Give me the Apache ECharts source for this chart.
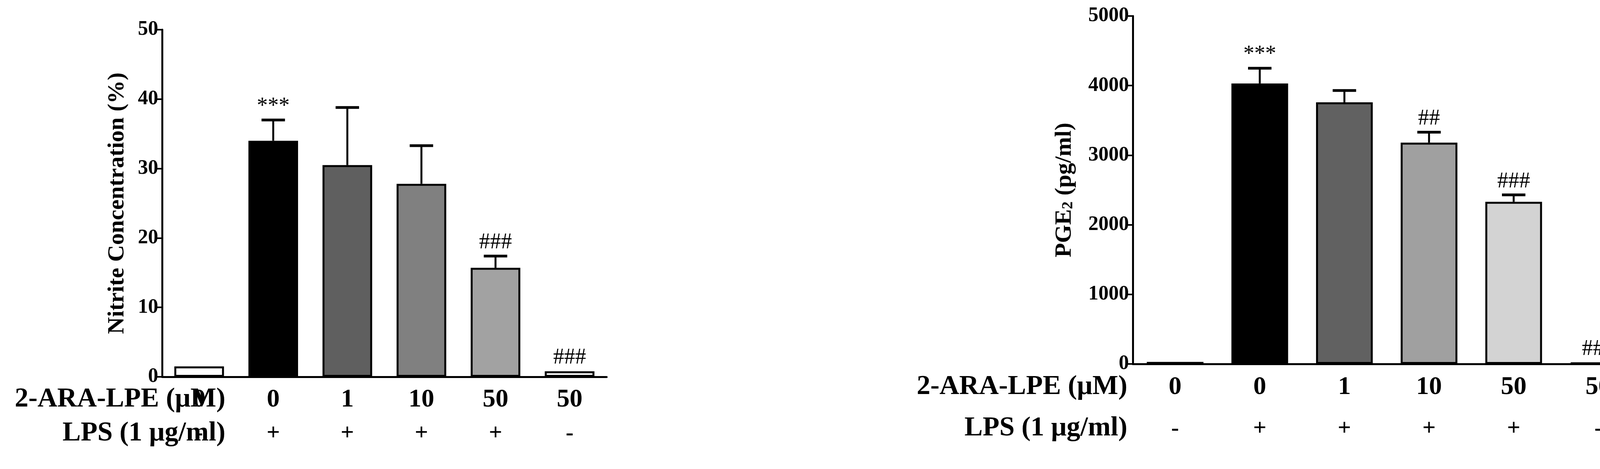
<!DOCTYPE html>
<html>
<head>
<meta charset="utf-8">
<script src="https://cdn.jsdelivr.net/npm/echarts@6/dist/echarts.min.js"></script>
<style>
  html, body { margin: 0; background: #fff; }
  #main { width: 4250px; height: 1201px; }
</style>
</head>
<body>
<div id="main"></div>
<script>
// data
var doses = ['0', '0', '1', '10', '50', '50'];
var lps = ['-', '+', '+', '+', '+', '-'];
var nitrite = [1.5, 34, 30.5, 27.8, 15.7, 0.8];
var nitriteErr = [0, 3, 8.3, 5.5, 1.7, 0];
var nitriteMarks = ['', '***', '', '', '###', '###'];
var pge2 = [30, 4030, 3760, 3180, 2330, 20];
var pge2Err = [0, 220, 170, 150, 100, 0];
var pge2Marks = ['', '***', '', '##', '###', '###'];
var leftColors = ['#ffffff', '#000000', '#5f5f5f', '#808080', '#a2a2a2', '#ffffff'];
var rightColors = ['#ffffff', '#000000', '#616161', '#a0a0a0', '#d3d3d3', '#ffffff'];

var FONT = 'Liberation Serif';
var cats = doses.map(function (d, i) { return i; });

function xAxisFor(gi, margin, lh) {
  return {
    type: 'category', gridIndex: gi, data: cats,
    axisLine: { lineStyle: { color: '#000', width: 5 } },
    axisTick: { alignWithLabel: true, length: 30, lineStyle: { color: '#000', width: 4 } },
    axisLabel: {
      margin: margin, color: '#000', fontFamily: FONT, fontWeight: 'bold',
      formatter: function (v) { return '{a|' + doses[v] + '}\n{b|' + lps[v] + '}'; },
      rich: {
        a: { fontSize: 66, fontFamily: FONT, fontWeight: 'bold', color: '#000', lineHeight: lh },
        b: { fontSize: 60, fontFamily: FONT, fontWeight: 'bold', color: '#000', lineHeight: lh }
      }
    }
  };
}
function yAxisFor(gi, max, interval, name, gap) {
  return {
    type: 'value', gridIndex: gi, min: 0, max: max, interval: interval,
    name: name, nameLocation: 'middle', nameGap: gap, nameRotate: 90,
    nameTextStyle: {
      fontFamily: FONT, fontWeight: 'bold', fontSize: 60, color: '#000',
      rich: { s: { fontFamily: FONT, fontWeight: 'bold', fontSize: 40, color: '#000', verticalAlign: 'bottom', padding: [20, 0, 0, 0] } }
    },
    axisLine: { show: true, lineStyle: { color: '#000', width: 5 } },
    axisTick: { show: true, length: 16, lineStyle: { color: '#000', width: 4 } },
    splitLine: { show: false },
    axisLabel: { color: '#000', fontFamily: FONT, fontWeight: 'bold', fontSize: 52, margin: 10,
      formatter: function (v) { return String(v); } }
  };
}
function barSeries(gi, vals, colors) {
  return {
    type: 'bar', xAxisIndex: gi, yAxisIndex: gi, barWidth: '67%',
    data: vals.map(function (v, i) {
      return { value: v, itemStyle: { color: colors[i], borderColor: '#000', borderWidth: 5 } };
    })
  };
}
function errSeries(gi, vals, errs, marks) {
  return {
    type: 'custom', xAxisIndex: gi, yAxisIndex: gi, z: 5,
    data: vals.map(function (v, i) { return [i, v, v + errs[i]]; }),
    renderItem: function (params, api) {
      var i = api.value(0);
      var base = api.coord([i, api.value(1)]);
      var top = api.coord([i, api.value(2)]);
      var children = [];
      if (errs[i] > 0) {
        children.push({ type: 'line', shape: { x1: base[0], y1: base[1], x2: top[0], y2: top[1] }, style: { stroke: '#000', lineWidth: 5 } });
        children.push({ type: 'line', shape: { x1: top[0] - 30, y1: top[1], x2: top[0] + 30, y2: top[1] }, style: { stroke: '#000', lineWidth: 7 } });
      }
      if (marks[i]) {
        children.push({ type: 'text', x: top[0], y: top[1] - 6, style: {
          text: marks[i], fill: '#000', font: '56px "' + FONT + '"', textAlign: 'center', textVerticalAlign: 'bottom' } });
      }
      return { type: 'group', children: children };
    }
  };
}
function rowLabel(text, rightEdge, centerY) {
  return { type: 'text', right: 4250 - rightEdge, top: centerY - 36,
    style: { text: text, font: 'bold 70px "' + FONT + '"', fill: '#000', textAlign: 'right' } };
}

var chart = echarts.init(document.getElementById('main'));
chart.setOption({
  backgroundColor: '#fff',
  animation: false,
  grid: [
    { left: 415, top: 76, width: 1138, height: 889 },
    { left: 2900, top: 41, width: 1300, height: 891 }
  ],
  xAxis: [xAxisFor(0, 15, 87), xAxisFor(1, 7, 106)],
  yAxis: [
    yAxisFor(0, 50, 10, 'Nitrite Concentration (%)', 85),
    yAxisFor(1, 5000, 1000, 'PGE{s|2} (pg/ml)', 145)
  ],
  graphic: [
    rowLabel('2-ARA-LPE (\u03bcM)', 577, 1024),
    rowLabel('LPS (1 \u03bcg/ml)', 577, 1111),
    rowLabel('2-ARA-LPE (\u03bcM)', 2886, 992),
    rowLabel('LPS (1 \u03bcg/ml)', 2886, 1098)
  ],
  series: [
    barSeries(0, nitrite, leftColors),
    errSeries(0, nitrite, nitriteErr, nitriteMarks),
    barSeries(1, pge2, rightColors),
    errSeries(1, pge2, pge2Err, pge2Marks)
  ]
});
</script>
</body>
</html>
